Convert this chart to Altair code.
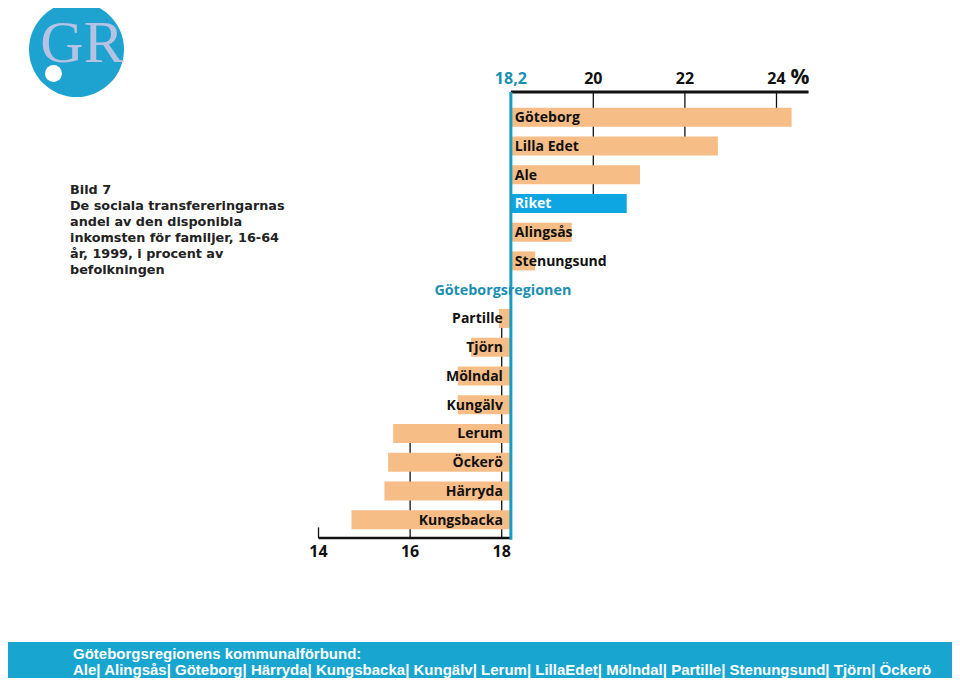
import altair as alt
import pandas as pd

# ---------------- data ----------------
names = ["Göteborg", "Lilla Edet", "Ale", "Riket", "Alingsås", "Stenungsund",
         "Göteborgsregionen", "Partille", "Tjörn", "Mölndal", "Kungälv",
         "Lerum", "Öckerö", "Härryda", "Kungsbacka"]
values = [24.33, 22.72, 21.02, 20.73, 19.53, 18.73,
          18.2, 17.94, 17.33, 17.04, 17.04, 15.63, 15.52, 15.44, 14.72]
region_value = 18.2
top_ticks = [18.2, 20, 22, 24]
top_tick_labels = ["18,2", "20", "22", "24"]
bottom_ticks = [14, 16, 18]
bottom_tick_labels = ["14", "16", "18"]

title_lines = ["Bild 7", "De sociala transfereringarnas", "andel av den disponibla",
               "inkomsten för familjer, 16-64", "år, 1999, i procent av", "befolkningen"]
footer_lines = ["Göteborgsregionens kommunalförbund:",
                "Ale| Alingsås| Göteborg| Härryda| Kungsbacka| Kungälv| Lerum| LillaEdet| Mölndal| Partille| Stenungsund| Tjörn| Öckerö"]

# ---------------- colours / fonts ----------------
PEACH = "#f6bd86"
RIKET = "#0ea5e3"
BLUE_LINE = "#1a9bc3"
TEAL_TXT = "#1a8fb3"
FOOTER_BG = "#18a6d0"
LOGO_BG = "#1ea3d1"
LOGO_TXT = "#b5c2e2"
LABEL_FONT = "Open Sans"

W, H = 944, 670
TOP_AXIS_ROW = -0.877
BOTTOM_AXIS_ROW = 14.64

# x: 18.2 -> 502.9 px, 45.8 px per unit ; y: row 0 -> 109.2 px, 28.74 px per row
xs = alt.Scale(domain=[7.220, 27.832], nice=False, zero=False)
ys = alt.Scale(domain=[-3.80, 19.51], nice=False, zero=False, reverse=True)

df = pd.DataFrame({"name": names, "value": values, "row": list(range(len(names)))})
df["base"] = region_value
df["top"] = df["value"] > region_value
df["bottom"] = df["value"] < region_value
df["color"] = [RIKET if n == "Riket" else PEACH for n in names]

# grid lines from the axis to the furthest bar crossing the tick
grid_rows = []
for t in top_ticks[1:]:
    rows = df[(df["top"]) & (df["value"] > t)]["row"]
    grid_rows.append({"v": t, "r1": TOP_AXIS_ROW,
                      "r2": rows.max() if len(rows) else TOP_AXIS_ROW + 0.37})
for t in bottom_ticks:
    rows = df[(df["bottom"]) & (df["value"] < t)]["row"]
    grid_rows.append({"v": t, "r1": BOTTOM_AXIS_ROW,
                      "r2": rows.min() if len(rows) else BOTTOM_AXIS_ROW - 0.37})
grid_df = pd.DataFrame(grid_rows)

grid = alt.Chart(grid_df).mark_rule(color="#111111", strokeWidth=1.3).encode(
    x=alt.X("v:Q", scale=xs, axis=None),
    y=alt.Y("r1:Q", scale=ys, axis=None),
    y2="r2:Q",
)

bars = alt.Chart(df[df["name"] != "Göteborgsregionen"]).mark_rule(
    strokeWidth=19, strokeCap="butt").encode(
    x=alt.X("base:Q", scale=xs, axis=None),
    x2="value:Q",
    y=alt.Y("row:Q", scale=ys, axis=None),
    color=alt.Color("color:N", scale=None, legend=None),
)

axis_df = pd.DataFrame({
    "x1": [region_value, bottom_ticks[0]],
    "x2": [24.7, region_value],
    "r": [TOP_AXIS_ROW, BOTTOM_AXIS_ROW],
    "w": [3, 2.5],
})
axes_lines = alt.Chart(axis_df).mark_rule(color="#111111", strokeCap="butt").encode(
    x=alt.X("x1:Q", scale=xs, axis=None),
    x2="x2:Q",
    y=alt.Y("r:Q", scale=ys, axis=None),
    strokeWidth=alt.StrokeWidth("w:Q", scale=None, legend=None),
)

vline_df = pd.DataFrame({"v": [region_value], "r1": [TOP_AXIS_ROW], "r2": [BOTTOM_AXIS_ROW + 0.06]})
vline = alt.Chart(vline_df).mark_rule(color=BLUE_LINE, strokeWidth=3).encode(
    x=alt.X("v:Q", scale=xs, axis=None),
    y=alt.Y("r1:Q", scale=ys, axis=None),
    y2="r2:Q",
)

lab_top = alt.Chart(df[df["top"]]).mark_text(
    align="left", baseline="middle", dx=4, dy=1, font=LABEL_FONT, fontWeight="bold", fontSize=14).encode(
    x=alt.X("base:Q", scale=xs, axis=None),
    y=alt.Y("row:Q", scale=ys, axis=None),
    text="name:N",
    color=alt.condition(alt.datum.name == "Riket", alt.value("white"), alt.value("#111111")),
)
lab_bottom = alt.Chart(df[df["bottom"]]).mark_text(
    align="right", baseline="middle", dx=-8, dy=1, font=LABEL_FONT, fontWeight="bold", fontSize=14,
    color="#111111").encode(
    x=alt.X("base:Q", scale=xs, axis=None),
    y=alt.Y("row:Q", scale=ys, axis=None),
    text="name:N",
)
lab_region = alt.Chart(df[df["name"] == "Göteborgsregionen"]).mark_text(
    align="center", baseline="middle", dx=-8, dy=1, font=LABEL_FONT, fontWeight="bold", fontSize=14.3,
    color=TEAL_TXT).encode(
    x=alt.X("base:Q", scale=xs, axis=None),
    y=alt.Y("row:Q", scale=ys, axis=None),
    text="name:N",
)

tt_df = pd.DataFrame({"v": top_ticks, "label": top_tick_labels, "r": -1.33})
tt_df["c"] = [TEAL_TXT if v == region_value else "#111111" for v in top_ticks]
top_labels = alt.Chart(tt_df).mark_text(
    align="center", baseline="middle", font=LABEL_FONT, fontWeight="bold", fontSize=16).encode(
    x=alt.X("v:Q", scale=xs, axis=None),
    y=alt.Y("r:Q", scale=ys, axis=None),
    text="label:N",
    color=alt.Color("c:N", scale=None, legend=None),
)
pct = alt.Chart(pd.DataFrame({"v": [top_ticks[-1]], "r": [-1.36], "t": ["%"]})).mark_text(
    align="left", baseline="middle", dx=14, font=LABEL_FONT, fontWeight="bold", fontSize=21,
    color="#111111").encode(
    x=alt.X("v:Q", scale=xs, axis=None),
    y=alt.Y("r:Q", scale=ys, axis=None),
    text="t:N",
)
bt_df = pd.DataFrame({"v": bottom_ticks, "label": bottom_tick_labels, "r": 15.13})
bottom_labels = alt.Chart(bt_df).mark_text(
    align="center", baseline="middle", font=LABEL_FONT, fontWeight="bold", fontSize=16,
    color="#111111").encode(
    x=alt.X("v:Q", scale=xs, axis=None),
    y=alt.Y("r:Q", scale=ys, axis=None),
    text="label:N",
)

# ---------------- title text ----------------
title_df = pd.DataFrame({"t": title_lines, "i": list(range(len(title_lines)))})
title_df["y"] = 182 + 16 * title_df["i"]
title = alt.Chart(title_df).mark_text(
    align="left", baseline="middle", font="DejaVu Sans", fontWeight="bold", fontSize=12.8,
    color="#222222").encode(
    x=alt.value(62),
    y=alt.Y("y:Q", scale=None),
    text="t:N",
)

# ---------------- logo ----------------
logo_circle = alt.Chart(pd.DataFrame({"a": [0]})).mark_circle(
    size=9025, color=LOGO_BG, opacity=1).encode(x=alt.value(68.5), y=alt.value(41.5))
logo_text = alt.Chart(pd.DataFrame({"t": ["GR"]})).mark_text(
    font="Liberation Serif", fontSize=60, color=LOGO_TXT, align="center", baseline="alphabetic"
).encode(x=alt.value(74), y=alt.value(54), text="t:N")
logo_dot = alt.Chart(pd.DataFrame({"a": [0]})).mark_circle(
    size=289, color="white", opacity=1).encode(x=alt.value(45.5), y=alt.value(65.5))

# ---------------- footer ----------------
footer_bg = alt.Chart(pd.DataFrame({"a": [0]})).mark_rect(color=FOOTER_BG).encode(
    x=alt.value(0), x2=alt.value(947), y=alt.value(634), y2=alt.value(H))
footer_df = pd.DataFrame({"t": footer_lines, "y": [646, 662]})
footer_text = alt.Chart(footer_df).mark_text(
    align="left", baseline="middle", font="Liberation Sans", fontWeight="bold", fontSize=15,
    color="white").encode(
    x=alt.value(65),
    y=alt.Y("y:Q", scale=None),
    text="t:N",
)

chart = alt.layer(
    grid, bars, axes_lines, vline, lab_top, lab_bottom, lab_region,
    top_labels, pct, bottom_labels, title,
    logo_circle, logo_text, logo_dot, footer_bg, footer_text,
).properties(
    width=W, height=H, padding=0, autosize=alt.AutoSizeParams(type="none")
).configure_view(stroke=None)

chart.save("out.html", embed_options={"renderer": "svg", "actions": False})
